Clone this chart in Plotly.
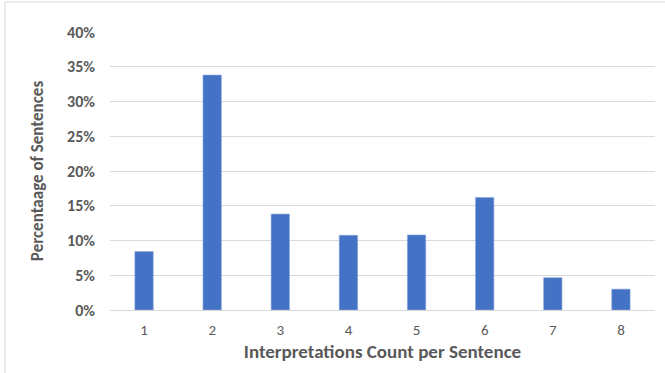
import plotly.graph_objects as go

# Interpretations per sentence and share of sentences
counts = ["1", "2", "3", "4", "5", "6", "7", "8"]
share = [0.084, 0.338, 0.138, 0.1075, 0.108, 0.162, 0.0465, 0.030]

y_ticks = [0, 0.05, 0.10, 0.15, 0.20, 0.25, 0.30, 0.35, 0.40]

FONT = "Calibri, Carlito, Lato, sans-serif"
GREY = "#595959"

fig = go.Figure(
    go.Bar(
        x=counts,
        y=share,
        marker=dict(color="#4472C4", line=dict(color="#8FAADC", width=0.6)),
        width=0.27,
    )
)

fig.update_layout(
    width=665,
    height=373,
    margin=dict(l=110, r=10, t=32, b=63),
    paper_bgcolor="white",
    plot_bgcolor="white",
    showlegend=False,
    font=dict(family=FONT, color=GREY),
    shapes=[
        dict(
            type="rect", xref="paper", yref="paper",
            x0=-0.1927, x1=1.03, y0=-0.26, y1=1.1079,
            line=dict(color="#D9D9D9", width=1), layer="below",
        )
    ],
)

fig.update_xaxes(
    type="category",
    showgrid=False,
    showline=True,
    linecolor="#D9D9D9",
    linewidth=1,
    ticks="",
    ticklabelstandoff=6,
    tickfont=dict(size=15, color=GREY),
    title=dict(
        text="<b>Interpretations Count per Sentence</b>",
        font=dict(size=19, color=GREY),
        standoff=6,
    ),
)

fig.update_yaxes(
    range=[0, 0.4],
    tickvals=y_ticks,
    tickformat=".0%",
    showgrid=True,
    gridcolor="#D9D9D9",
    gridwidth=1,
    zeroline=False,
    showline=False,
    ticks="",
    ticklabelstandoff=14,
    tickfont=dict(size=16, color=GREY, weight="bold"),
    title=dict(
        text="<b>Percentaage of Sentences</b>",
        font=dict(size=17, color=GREY),
        standoff=19,
    ),
)

fig.write_html("out.html")
